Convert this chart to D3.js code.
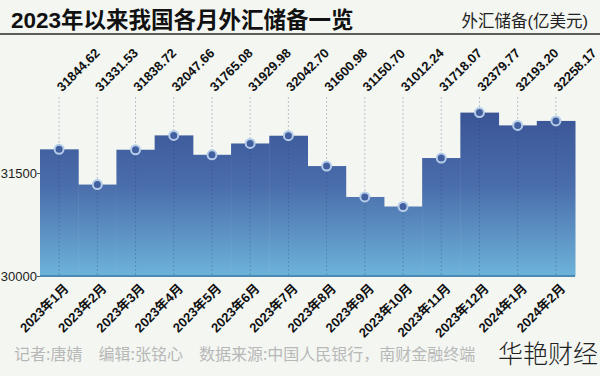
<!DOCTYPE html>
<html>
<head>
<meta charset="utf-8">
<script src="https://cdn.jsdelivr.net/npm/d3@7"></script>
<style>
body { margin: 0; background: #f3f6f1; }
svg { display: block; }
</style>
</head>
<body>
<svg></svg>
<script>
// ================= DATA =================
var months = ["2023年1月", "2023年2月", "2023年3月", "2023年4月", "2023年5月", "2023年6月", "2023年7月",
    "2023年8月", "2023年9月", "2023年10月", "2023年11月", "2023年12月", "2024年1月", "2024年2月"];
var reserves = [31844.62, 31331.53, 31838.72, 32047.66, 31765.08, 31929.98, 32042.70,
    31600.98, 31150.70, 31012.24, 31718.07, 32379.77, 32193.20, 32258.17];
var yTicks = [30000, 31500];
var title = "2023年以来我国各月外汇储备一览";
var unit = "外汇储备(亿美元)";
var credits = "记者:唐婧　编辑:张铭心　数据来源:中国人民银行，南财金融终端";
var brand = "华艳财经";

var width = 600;
var height = 376;
var data = months.map(function(m, i) { return {month: m, value: reserves[i]}; });

var svg = d3.select("svg").attr("width", width).attr("height", height);

// ================= SCALES =================
var xs = d3.scaleBand().domain(months).range([40, 575]).padding(0);
var ys = d3.scaleLinear().domain([30000, 31500]).range([276, 173]);
var font = "'Liberation Sans', 'Noto Sans CJK SC', sans-serif";

// ================= HEADER =================
svg.append("text")
    .attr("x", 11).attr("y", 28)
    .attr("font-family", font).attr("font-weight", "bold").attr("font-size", 22.5)
    .attr("fill", "#111")
    .text(title);

svg.append("text")
    .attr("x", 588).attr("y", 27)
    .attr("text-anchor", "end")
    .attr("font-family", font).attr("font-size", 16.5)
    .attr("fill", "#222")
    .text(unit);

svg.append("line")
    .attr("x1", 0).attr("x2", width).attr("y1", 34).attr("y2", 34)
    .attr("stroke", "#5c5e5c").attr("stroke-width", 2);

// ================= GRADIENT =================
var grad = svg.append("defs").append("linearGradient")
    .attr("id", "fillGrad")
    .attr("gradientUnits", "userSpaceOnUse")
    .attr("x1", 0).attr("x2", 0)
    .attr("y1", ys(32400)).attr("y2", ys(30000));
grad.append("stop").attr("offset", "0%").attr("stop-color", "#3a5495");
grad.append("stop").attr("offset", "45%").attr("stop-color", "#4a6dab");
grad.append("stop").attr("offset", "100%").attr("stop-color", "#6db3d9");

// ================= STEP BARS =================
svg.append("g")
    .selectAll("rect")
    .data(data)
    .enter()
    .append("rect")
    .attr("x", function(d) { return xs(d.month); })
    .attr("y", function(d) { return ys(d.value); })
    .attr("width", xs.bandwidth() + 0.5)
    .attr("height", function(d) { return ys(30000) - ys(d.value); })
    .attr("fill", "url(#fillGrad)");

// bottom axis line
svg.append("line")
    .attr("x1", 40).attr("x2", 575)
    .attr("y1", ys(30000)).attr("y2", ys(30000))
    .attr("stroke", "#4b8ab3").attr("stroke-width", 2);

// leader lines
svg.append("g")
    .selectAll("line")
    .data(data)
    .enter()
    .append("line")
    .attr("x1", function(d) { return xs(d.month) + xs.bandwidth() / 2; })
    .attr("x2", function(d) { return xs(d.month) + xs.bandwidth() / 2; })
    .attr("y1", 97)
    .attr("y2", ys(30000) - 1)
    .attr("stroke", "rgba(40,60,100,0.28)")
    .attr("stroke-width", 1)
    .attr("stroke-dasharray", "2,2");

// points
svg.append("g")
    .selectAll("circle")
    .data(data)
    .enter()
    .append("circle")
    .attr("cx", function(d) { return xs(d.month) + xs.bandwidth() / 2; })
    .attr("cy", function(d) { return ys(d.value); })
    .attr("r", 4.5)
    .attr("fill", "#42609f")
    .attr("stroke", "#b6cdea")
    .attr("stroke-width", 2);

// value labels
svg.append("g")
    .selectAll("text")
    .data(data)
    .enter()
    .append("text")
    .attr("transform", function(d) {
        return "translate(" + (xs(d.month) + xs.bandwidth() / 2) + ",89)rotate(-45)";
    })
    .attr("dy", "0.35em")
    .attr("font-family", font).attr("font-weight", "bold").attr("font-size", 13)
    .attr("fill", "#111")
    .text(function(d) { return d.value.toFixed(2); });

// ================= AXES =================
var yAxis = svg.append("g")
    .attr("transform", "translate(40,0)")
    .call(d3.axisLeft(ys).tickValues(yTicks).tickSize(3).tickFormat(d3.format("d")));
yAxis.select(".domain").remove();
yAxis.selectAll("line").attr("stroke", "#555");
yAxis.selectAll("text")
    .attr("font-family", font).attr("font-size", 13)
    .attr("fill", "#222")
    .attr("x", -3);

var xAxis = svg.append("g")
    .attr("transform", "translate(0," + ys(30000) + ")")
    .call(d3.axisBottom(xs).tickSize(0));
xAxis.select(".domain").remove();
xAxis.selectAll("text")
    .attr("font-family", font).attr("font-weight", "bold").attr("font-size", 13)
    .attr("fill", "#111")
    .attr("text-anchor", "end")
    .attr("y", 0).attr("dy", "0.35em")
    .attr("transform", "translate(7,10)rotate(-45)");

// ================= FOOTER =================
svg.append("text")
    .attr("x", 14).attr("y", 360)
    .attr("font-family", "'Noto Sans CJK SC', sans-serif").attr("font-size", 16)
    .attr("fill", "#b8b8b8")
    .text(credits);

svg.append("text")
    .attr("x", 598).attr("y", 363)
    .attr("text-anchor", "end")
    .attr("font-family", "'Noto Sans CJK SC', sans-serif").attr("font-weight", 300).attr("font-size", 25)
    .attr("fill", "#222")
    .text(brand);
</script>
</body>
</html>
